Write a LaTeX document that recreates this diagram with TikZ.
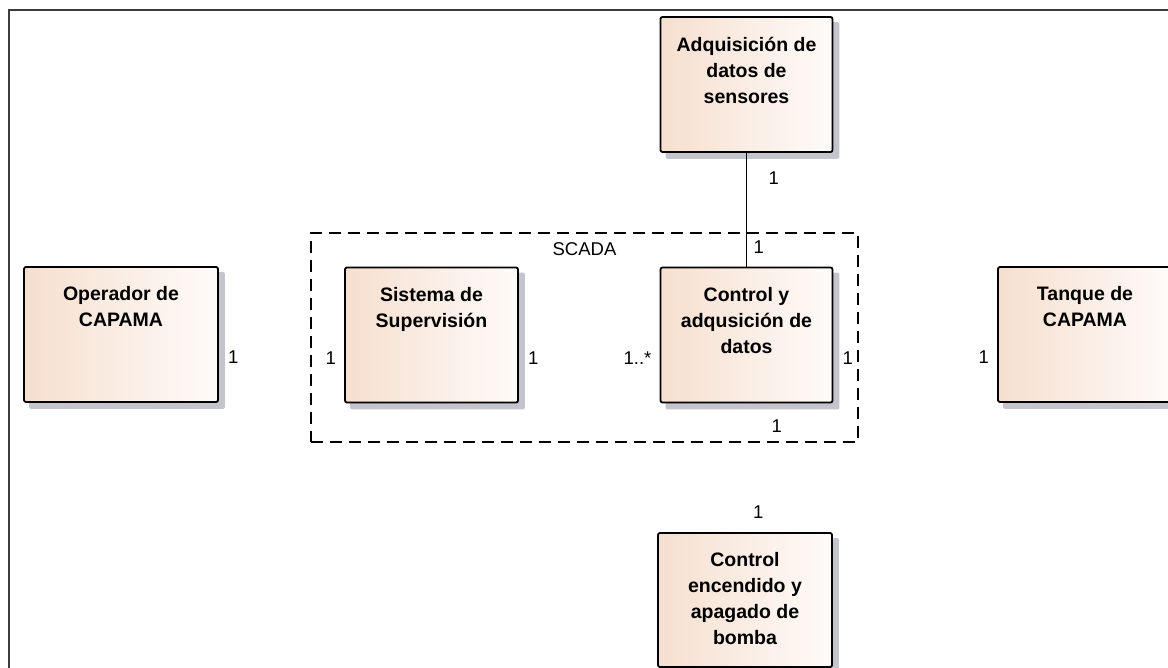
\documentclass[tikz,border=0pt]{standalone}
\usepackage{fontspec}
\setmainfont{Liberation Sans}
\usetikzlibrary{positioning}
\usetikzlibrary{backgrounds}
\definecolor{boxleft}{RGB}{246,223,207}
\definecolor{boxright}{RGB}{254,251,249}
\definecolor{shadowgray}{RGB}{196,196,204}
\definecolor{framegray}{RGB}{60,60,60}
\tikzset{x=1pt, y=1pt,
  block/.style={ % Sets the properties for each block
    draw, line width=1.8pt, rounded corners=2pt,
    left color=boxleft, right color=boxright,
    minimum width=173pt, minimum height=135pt, inner sep=0pt},
  blocktext/.style={anchor=north, yshift=-20.5pt, inner sep=0pt, align=center,
    font=\fontsize{19.5}{26}\selectfont\bfseries, execute at begin node=\strut},
  group/.style={draw, dash pattern=on 12pt off 7pt, line width=1.6pt,
    minimum width=547pt, minimum height=209pt},
  grouptext/.style={anchor=north, yshift=-7.5pt, inner sep=0pt,
    font=\fontsize{18.5}{22}\selectfont, execute at begin node=\strut},
  mult/.style={inner sep=0pt, font=\fontsize{18.5}{22}\selectfont},
  link/.style={draw, line width=1.6pt}}
\begin{document}
\begin{tikzpicture}
  \useasboundingbox (0,0) rectangle (1168,-668);
  \draw[framegray, line width=1.2pt] (9,-668) -- (9,-10) -- (1168,-10);

  % SCADA group
  \node [group, label={[grouptext]north:SCADA}] (scada) at (584.5,-337.5) {};

  % blocks
  \node [block, minimum width=194pt, label={[blocktext]north:Operador de\\CAPAMA}] (op) at (121,-334.5) {};
  \node [block, label={[blocktext]north:Sistema de\\Supervisión}] (sup) at (431.5,-335) {};
  \node [block, minimum width=172pt, label={[blocktext]north:Control y\\adqusición de\\datos}] (ctl) at (746.5,-335) {};
  \node [block, minimum width=172pt, label={[blocktext]north:Adquisición de\\datos de\\sensores}] (adq) at (746.5,-84.5) {};
  \node [block, minimum width=174pt, label={[blocktext]north:Tanque de\\CAPAMA}] (tan) at (1085,-334.5) {};
  \node [block, minimum width=174pt, minimum height=134pt, label={[blocktext]north:Control\\encendido y\\apagado de\\bomba}] (bom) at (745,-600) {};

  % shadows behind the blocks
  \begin{scope}[on background layer]
    \foreach \b in {op,sup,ctl,adq,tan,bom}
      \fill [shadowgray, rounded corners=2pt] ([shift={(6,-6)}]\b.south west) rectangle ([shift={(6,-6)}]\b.north east);
  \end{scope}

  \draw [link] (adq) -- (ctl);

  % multiplicities
  \node [mult, right=9pt of op.east, yshift=-23pt] (m1) {1};
  \node [mult, left=8pt of sup.west, yshift=-23pt] (m2) {1};
  \node [mult, right=9pt of sup.east, yshift=-23pt] (m3) {1};
  \node [mult, left=8pt of ctl.west, yshift=-23pt] (m4) {1..*};
  \node [mult, right=9pt of ctl.east, yshift=-23pt] (m5) {1};
  \node [mult, left=8pt of tan.west, yshift=-23pt] (m6) {1};
  \node [mult, above right=13pt and 7pt of ctl.north] (m7) {1};
  \node [mult, below right=19pt and 22pt of adq.south] (m8) {1};
  \node [mult, below right=16pt and 25pt of ctl.south] (m9) {1};
  \node [mult, above right=13pt and 8pt of bom.north] (m10) {1};
\end{tikzpicture}
\end{document}
